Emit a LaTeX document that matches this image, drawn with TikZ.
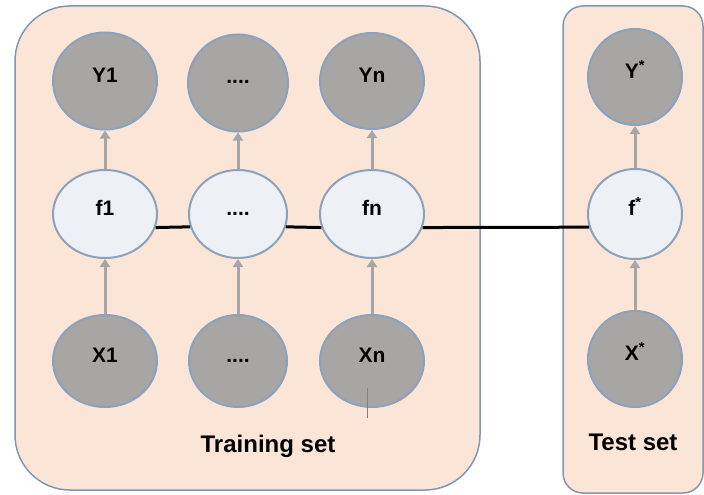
\documentclass[tikz,border=0pt]{standalone}
\usepackage{fontspec}
\setmainfont{Liberation Sans}
\usepackage{tikz}
\usetikzlibrary{arrows.meta}
\usetikzlibrary{shapes.geometric}
\definecolor{peach}{RGB}{251,229,214}
\definecolor{frameblue}{RGB}{130,150,182}
\definecolor{ringblue}{RGB}{140,162,188}
\definecolor{darkfill}{RGB}{168,165,165}
\definecolor{lightfill}{RGB}{237,240,244}
\definecolor{arrowgray}{RGB}{166,166,166}
\tikzset{
  setbox/.style={fill=peach, draw=frameblue, line width=1.5pt},
  obs/.style={ellipse, draw=ringblue, line width=2pt, fill=darkfill, inner sep=0pt,
    minimum width=104pt, font=\bfseries\fontsize{21}{21}\selectfont,
    text height=15pt, text depth=13pt},
  lat/.style={obs, fill=lightfill},
  up/.style={draw=arrowgray, line width=3pt, -{Triangle[length=8pt,width=10pt]}},
  link/.style={draw=black, line width=3pt},
  stray/.style={draw=gray, line width=0.8pt},
  setlabel/.style={font=\bfseries\fontsize{24}{24}\selectfont}
}

\begin{document}
\begin{tikzpicture}[x=1pt,y=-1pt]
\useasboundingbox (0,0) rectangle (704,495);

% plates
\draw[setbox, rounded corners=55pt] (15,6) rectangle (480,490);
\draw[setbox, rounded corners=20pt] (563,6) rectangle (703,493);

% outputs
\node[obs, minimum height=97pt] (Y1) at (105,81) {Y1};
\node[obs, minimum width=100pt, minimum height=97pt] (Yd) at (238,83) {....};
\node[obs, minimum height=96pt] (Yn) at (372,81) {Yn};
\node[obs, minimum width=94pt, minimum height=96pt] (Ys) at (635,77) {Y\textsuperscript{*}};

% latent functions
\node[lat, minimum height=88pt] (f1) at (105,214) {f1};
\node[lat, minimum width=98pt, minimum height=88pt] (fd) at (238,214) {....};
\node[lat, minimum height=88pt] (fn) at (372,214) {fn};
\node[lat, minimum width=94pt, minimum height=90pt] (fs) at (635,214) {f\textsuperscript{*}};

% inputs
\node[obs, minimum height=92pt] (X1) at (105,361) {X1};
\node[obs, minimum width=98pt, minimum height=92pt] (Xd) at (238,361) {....};
\node[obs, minimum height=92pt] (Xn) at (372,361) {Xn};
\node[obs, minimum width=94pt, minimum height=96pt] (Xs) at (635,359) {X\textsuperscript{*}};

\draw[up] (X1) -- (f1);
\draw[up] (Xd) -- (fd);
\draw[up] (Xn) -- (fn);
\draw[up] (Xs) -- (fs);
\draw[up] (f1) -- (Y1);
\draw[up] (fd) -- (Yd);
\draw[up] (fn) -- (Yn);
\draw[up] (fs) -- (Ys);

\draw[link] (f1.-15) -- (fd.195);
\draw[link] (fd.-15) -- (fn.195);
\draw[link] (fn.-15) -- (fs.196);

\coordinate (tick) at (367,388);
\draw[stray] (tick) -- ++(0,30);

\node[setlabel] (trainlabel) at (268,446) {Training set};
\node[setlabel] (testlabel) at (633,442) {Test set};

\end{tikzpicture}
\end{document}
